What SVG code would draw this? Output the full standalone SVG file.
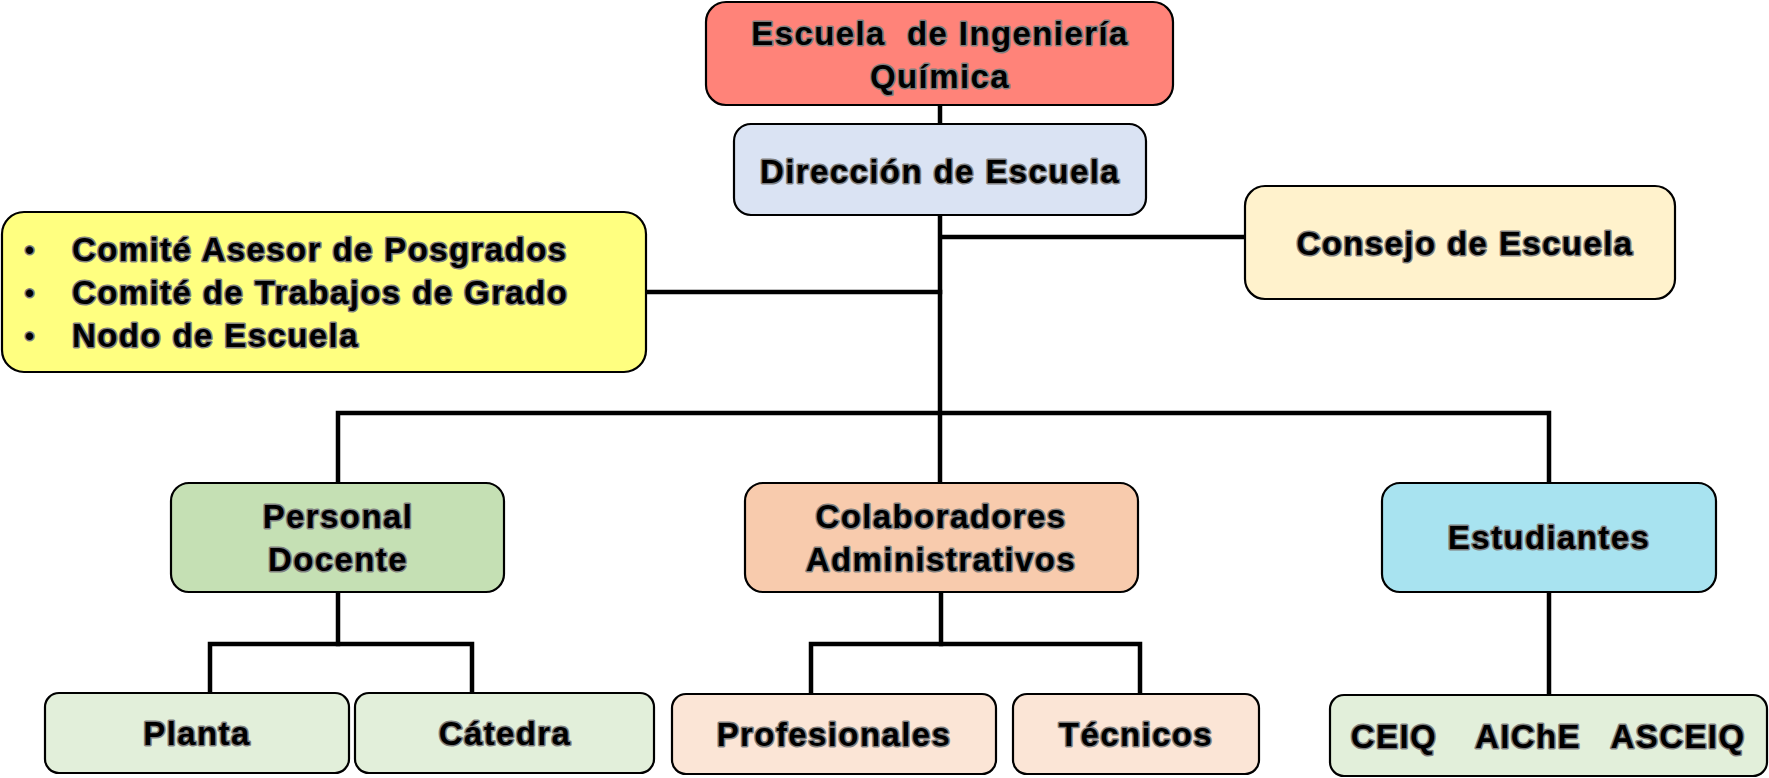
<svg xmlns="http://www.w3.org/2000/svg" width="1769" height="778" viewBox="0 0 1769 778">
<style>
.box{stroke:#000;stroke-width:2.2}
.t{font-family:"Liberation Sans",Arial,sans-serif;font-weight:bold;font-size:33px;letter-spacing:1.4px;fill:#000;stroke:#808080;stroke-width:3;paint-order:stroke;stroke-linejoin:round;text-anchor:middle}
.l{text-anchor:start}
.b{font-size:26px}
.c{fill:none;stroke:#000;stroke-width:4.5;stroke-linecap:square}
</style>
<rect width="1769" height="778" fill="#fff"/>
<g id="connectors">
<path class="c" d="M940 106V122"/>
<path class="c" d="M940 216V480"/>
<path class="c" d="M943 237H1242"/>
<path class="c" d="M647 292H940"/>
<path class="c" d="M338 481V413H1549V481"/>
<path class="c" d="M338 593V644"/>
<path class="c" d="M210 691V644H472V691"/>
<path class="c" d="M941 593V644"/>
<path class="c" d="M811 692V644H1140V692"/>
<path class="c" d="M1549 593V692"/>
</g>
<g id="escuela">
<rect class="box" x="706" y="2" width="467" height="103" rx="20" fill="#FF8379"/>
<text class="t" x="940" y="45" xml:space="preserve" style="white-space:pre">Escuela  de Ingeniería</text>
<text class="t" x="940" y="88">Química</text>
</g>
<g id="direccion">
<rect class="box" x="734" y="124" width="412" height="91" rx="17" fill="#DAE3F3"/>
<text class="t" x="940" y="183">Dirección de Escuela</text>
</g>
<g id="comites">
<rect class="box" x="2" y="212" width="644" height="160" rx="22" fill="#FFFF80"/>
<text class="t l b" x="25" y="259">•</text>
<text class="t l b" x="25" y="302">•</text>
<text class="t l b" x="25" y="345">•</text>
<text class="t l" x="72" y="261">Comité Asesor de Posgrados</text>
<text class="t l" x="72" y="304">Comité de Trabajos de Grado</text>
<text class="t l" x="72" y="347">Nodo de Escuela</text>
</g>
<g id="consejo">
<rect class="box" x="1245" y="186" width="430" height="113" rx="20" fill="#FFF2CC"/>
<text class="t" x="1465" y="255">Consejo de Escuela</text>
</g>
<g id="personal">
<rect class="box" x="171" y="483" width="333" height="109" rx="18" fill="#C5E0B4"/>
<text class="t" x="338" y="528">Personal</text>
<text class="t" x="338" y="571">Docente</text>
</g>
<g id="colaboradores">
<rect class="box" x="745" y="483" width="393" height="109" rx="18" fill="#F8CBAD"/>
<text class="t" x="941" y="528">Colaboradores</text>
<text class="t" x="941" y="571">Administrativos</text>
</g>
<g id="estudiantes">
<rect class="box" x="1382" y="483" width="334" height="109" rx="18" fill="#A8E3F0"/>
<text class="t" x="1549" y="549">Estudiantes</text>
</g>
<g id="planta">
<rect class="box" x="45" y="693" width="304" height="80" rx="14" fill="#E2EFDA"/>
<text class="t" x="197" y="745">Planta</text>
</g>
<g id="catedra">
<rect class="box" x="355" y="693" width="299" height="80" rx="14" fill="#E2EFDA"/>
<text class="t" x="505" y="745">Cátedra</text>
</g>
<g id="profesionales">
<rect class="box" x="672" y="694" width="324" height="80" rx="14" fill="#FBE5D6"/>
<text class="t" x="834" y="746">Profesionales</text>
</g>
<g id="tecnicos">
<rect class="box" x="1013" y="694" width="246" height="80" rx="14" fill="#FBE5D6"/>
<text class="t" x="1136" y="746">Técnicos</text>
</g>
<g id="asociaciones">
<rect class="box" x="1330" y="695" width="437" height="81" rx="14" fill="#E2EFDA"/>
<text class="t" y="748"><tspan x="1394">CEIQ</tspan><tspan x="1528">AIChE</tspan><tspan x="1678">ASCEIQ</tspan></text>
</g>
</svg>
